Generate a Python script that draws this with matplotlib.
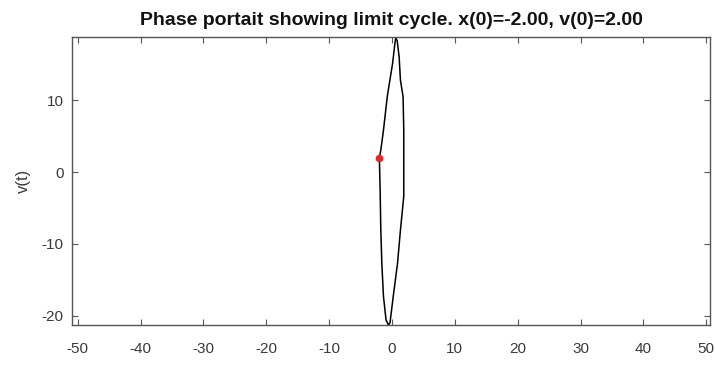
import matplotlib
matplotlib.use("Agg")
import matplotlib.pyplot as plt

plt.rcParams['font.family'] = ['Liberation Sans', 'DejaVu Sans']
plt.rcParams['axes.unicode_minus'] = False

# limit cycle trajectory (x, v)
x_vals = [-2.00, -1.88, -1.77, -1.61, -1.35, -0.94, -0.57,
          -0.31, 0.21, 0.89, 1.35, 1.88, 1.88, 1.77, 1.35, 1.15, 0.83, 0.60,
          0.47, 0.10, -0.73, -1.35, -1.77, -2.00]
v_vals = [2.0, -2.5, -8.1, -12.7, -17.3, -20.6, -21.3,
          -21.0, -17.3, -12.7, -8.1, -3.4, 5.8, 10.5, 12.8, 16.0, 18.3, 18.7,
          17.9, 15.1, 10.6, 5.8, 3.06, 2.0]
x0, v0 = -2.0, 2.0

xticks = [-50, -40, -30, -20, -10, 0, 10, 20, 30, 40, 50]
yticks = [-20, -10, 0, 10]

fig = plt.figure(figsize=(7.15, 3.65), dpi=100)
ax = fig.add_axes([0.1007, 0.1096, 0.8923, 0.789])

ax.plot(x_vals, v_vals, color='black', linewidth=1.1)
ax.plot([x0], [v0], 'o', color='#e8262a', markersize=4.5)

ax.set_xlim(-50.9, 50.6)
ax.set_ylim(-21.3, 18.8)
ax.set_xticks(xticks)
ax.set_yticks(yticks)

grey = '#3a3a3a'
for s in ax.spines.values():
    s.set_color('#555555')
    s.set_linewidth(1.0)
ax.tick_params(direction='in', top=True, right=True, length=4, width=0.8,
               colors='#555555', labelcolor=grey, labelsize=11)
ax.tick_params(axis='x', pad=12)
ax.tick_params(axis='y', pad=6)

ax.set_ylabel('v(t)', fontsize=12, color=grey, labelpad=8)
ax.set_title('Phase portait showing limit cycle. x(0)=-2.00, v(0)=2.00',
             fontsize=14, fontweight='bold', color='#111111', pad=9)

fig.savefig('out.png', dpi=100)
